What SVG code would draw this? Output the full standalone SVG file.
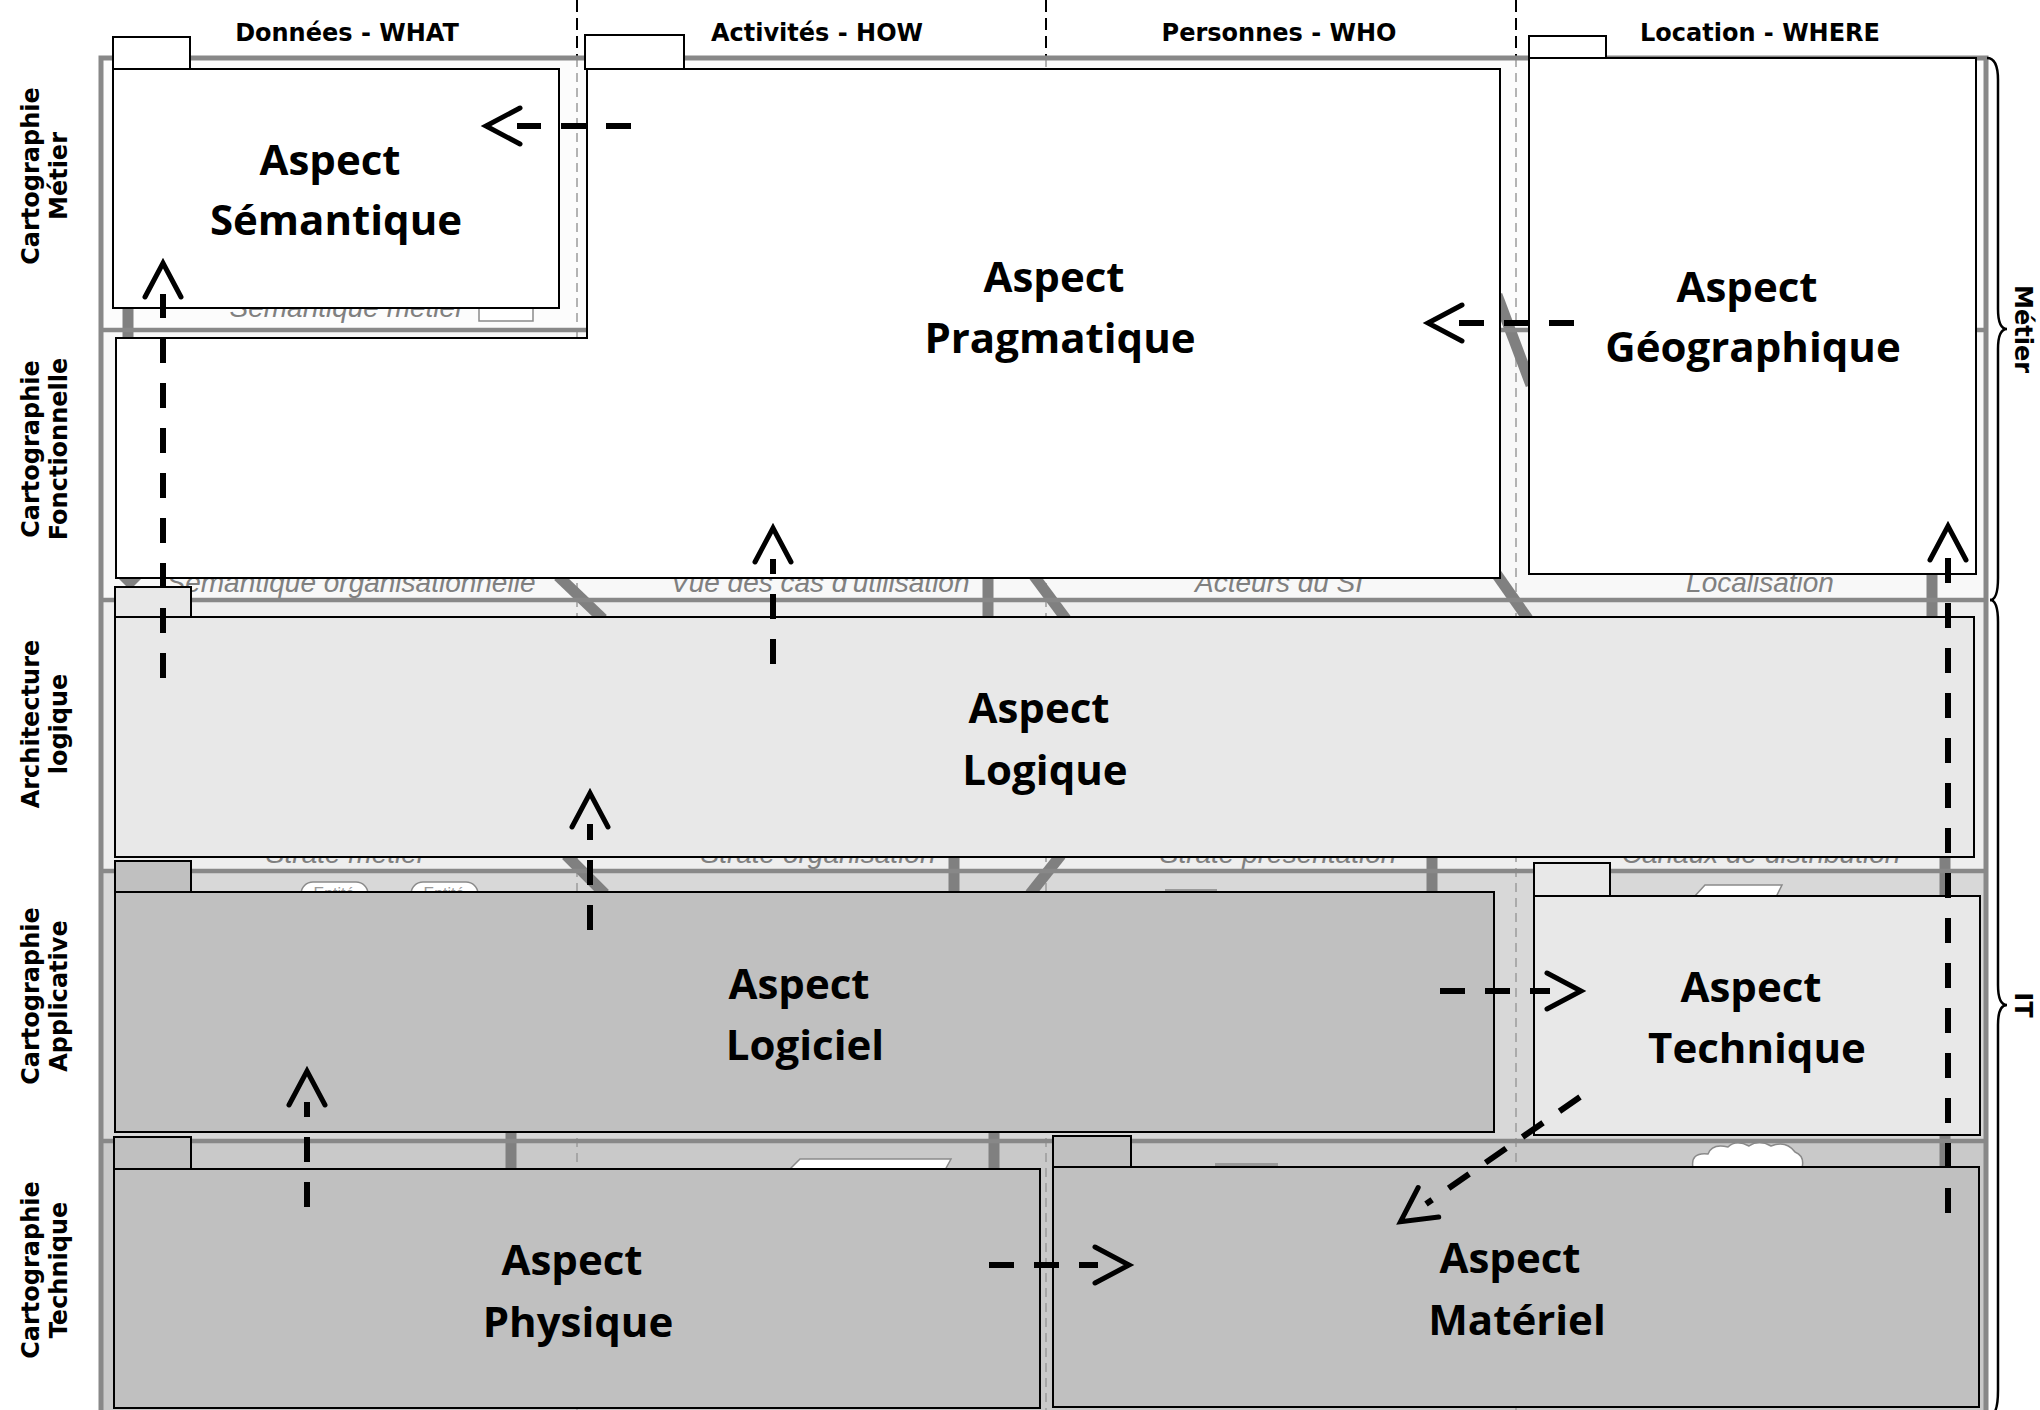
<svg xmlns="http://www.w3.org/2000/svg" width="2040" height="1410" viewBox="0 0 2040 1410">
<style>
.hdr{font-family:"DejaVu Sans",Verdana,sans-serif;font-weight:bold;font-size:24px;fill:#000;text-anchor:middle}
.asp{font-family:"Open Sans","Noto Sans",sans-serif;font-weight:bold;font-size:42px;fill:#000;text-anchor:middle}
.sub{font-family:"Liberation Sans",Arial,sans-serif;font-style:italic;font-size:28px;fill:#808080;text-anchor:middle}
.box{stroke:#000;stroke-width:2}
.bar{stroke:#808080;stroke-width:11;fill:none}
.gdash{stroke:#9a9a9a;stroke-width:1.5;stroke-dasharray:9 6;fill:none}
.kdash{stroke:#000;stroke-width:2;stroke-dasharray:12 6;fill:none}
.row{stroke:#888;stroke-width:4.5;fill:none}
.con{stroke:#000;stroke-width:6;stroke-dasharray:25 20;fill:none;marker-end:url(#ah)}
.icon{fill:#fff;stroke:#8a8a8a;stroke-width:1.5}
</style>
<defs>
<marker id="ah" viewBox="-40 -30 80 60" markerWidth="80" markerHeight="60" refX="0" refY="0" orient="auto" markerUnits="userSpaceOnUse">
<path d="M -3,-18 L 31,0 L -3,18" fill="none" stroke="#000" stroke-width="5" stroke-linecap="round" stroke-linejoin="miter"/>
</marker>
</defs>
<rect width="2040" height="1410" fill="#fff"/>
<g id="background">
<rect x="101" y="58" width="1885" height="272" fill="#fcfcfc"/>
<rect x="101" y="330" width="1885" height="270" fill="#f8f8f8"/>
<rect x="101" y="600" width="1885" height="271" fill="#eeeeee"/>
<rect x="101" y="871" width="1885" height="270" fill="#d8d8d8"/>
<rect x="101" y="1141" width="1885" height="272" fill="#c9c9c9"/>
<line class="kdash" x1="577" y1="0" x2="577" y2="58"/>
<line class="kdash" x1="1046" y1="0" x2="1046" y2="58"/>
<line class="kdash" x1="1516" y1="0" x2="1516" y2="58"/>
<line class="gdash" x1="577" y1="58" x2="577" y2="1410"/>
<line class="gdash" x1="1046" y1="58" x2="1046" y2="1410"/>
<line class="gdash" x1="1516" y1="58" x2="1516" y2="1410"/>
<text class="sub" x="347" y="317">Sémantique métier</text>
<rect class="icon" x="479" y="298" width="54" height="23"/>
<text class="sub" x="351" y="592">Sémantique organisationnelle</text>
<text class="sub" x="820" y="592">Vue des cas d'utilisation</text>
<text class="sub" x="1279" y="592">Acteurs du SI</text>
<text class="sub" x="1760" y="592">Localisation</text>
<text class="sub" x="346" y="863">Strate métier</text>
<text class="sub" x="818" y="863">Strate organisation</text>
<text class="sub" x="1278" y="863">Strate présentation</text>
<text class="sub" x="1761" y="863">Canaux de distribution</text>
<line class="bar" x1="128" y1="298" x2="128" y2="340"/>
<line class="bar" x1="1497" y1="295" x2="1531" y2="385"/>
<polygon points="116,576 144,576 130,590" fill="#808080"/>
<line class="bar" x1="558" y1="576" x2="603" y2="619"/>
<line class="bar" x1="988" y1="576" x2="988" y2="619"/>
<line class="bar" x1="1034" y1="576" x2="1066" y2="619"/>
<line class="bar" x1="1495" y1="572" x2="1528" y2="619"/>
<line class="bar" x1="1932" y1="572" x2="1932" y2="619"/>
<line class="bar" x1="566" y1="855" x2="605" y2="894"/>
<line class="bar" x1="954" y1="855" x2="954" y2="894"/>
<line class="bar" x1="1061" y1="855" x2="1030" y2="894"/>
<line class="bar" x1="1432" y1="855" x2="1432" y2="894"/>
<line class="bar" x1="1945" y1="855" x2="1945" y2="898"/>
<rect class="icon" x="301" y="882" width="67" height="30" rx="12"/>
<rect class="icon" x="411" y="882" width="67" height="30" rx="12"/>
<text x="334" y="899" font-family="Liberation Sans, Arial, sans-serif" font-size="16" fill="#999" text-anchor="middle">Entité</text>
<text x="444" y="899" font-family="Liberation Sans, Arial, sans-serif" font-size="16" fill="#999" text-anchor="middle">Entité</text>
<polygon class="icon" points="1705,885 1782,885 1776,897 1694,897"/>
<rect x="1165" y="889" width="52" height="6" fill="#9a9a9a"/>
<line class="bar" x1="511" y1="1130" x2="511" y2="1171"/>
<line class="bar" x1="994" y1="1130" x2="994" y2="1171"/>
<line class="bar" x1="1945" y1="1133" x2="1945" y2="1171"/>
<polygon class="icon" points="800,1159 951,1159 945,1170 789,1170"/>
<path class="icon" d="M1693,1168 Q1690,1152 1708,1154 Q1712,1143 1728,1147 Q1736,1139 1749,1146 Q1759,1139 1771,1146 Q1786,1140 1795,1152 Q1805,1156 1802,1168 Z"/>
<rect x="1215" y="1163" width="63" height="6" fill="#9a9a9a"/>
<path d="M101,1412 L101,58 L1986,58 L1986,1412" stroke="#888" stroke-width="5" fill="none"/>
<line class="row" x1="101" y1="330" x2="1986" y2="330"/>
<line class="row" x1="101" y1="600" x2="1986" y2="600"/>
<line class="row" x1="101" y1="871" x2="1986" y2="871"/>
<line class="row" x1="101" y1="1141" x2="1986" y2="1141"/>
</g>
<g id="headers">
<text class="hdr" x="347" y="41">Données - WHAT</text>
<text class="hdr" x="817" y="41">Activités - HOW</text>
<text class="hdr" x="1279" y="41">Personnes - WHO</text>
<text class="hdr" x="1760" y="41">Location - WHERE</text>
</g>
<g id="row-labels">
<g transform="translate(0,176)"><text class="hdr" transform="translate(39,0) rotate(-90)">Cartographie</text><text class="hdr" transform="translate(67,0) rotate(-90)">Métier</text></g>
<g transform="translate(0,449)"><text class="hdr" transform="translate(39,0) rotate(-90)">Cartographie</text><text class="hdr" transform="translate(67,0) rotate(-90)">Fonctionnelle</text></g>
<g transform="translate(0,724)"><text class="hdr" transform="translate(39,0) rotate(-90)">Architecture</text><text class="hdr" transform="translate(67,0) rotate(-90)">logique</text></g>
<g transform="translate(0,996)"><text class="hdr" transform="translate(39,0) rotate(-90)">Cartographie</text><text class="hdr" transform="translate(67,0) rotate(-90)">Applicative</text></g>
<g transform="translate(0,1270)"><text class="hdr" transform="translate(39,0) rotate(-90)">Cartographie</text><text class="hdr" transform="translate(67,0) rotate(-90)">Technique</text></g>
</g>
<g id="braces">
<path d="M1987,58 Q1998,58 1998,80 L1998,309 Q1998,329 2007,329 Q1998,329 1998,349 L1998,578 Q1998,600 1990,600" fill="none" stroke="#000" stroke-width="2.5"/>
<path d="M1990,600 Q1998,600 1998,622 L1998,985 Q1998,1005 2007,1005 Q1998,1005 1998,1025 L1998,1390 Q1998,1410 1993,1414" fill="none" stroke="#000" stroke-width="2.5"/>
<text class="hdr" transform="translate(2015,329) rotate(90)">Métier</text>
<text class="hdr" transform="translate(2015,1005) rotate(90)">IT</text>
</g>
<g id="aspect-pragmatique">
<rect class="box" x="585" y="35" width="99" height="34" fill="#fff"/>
<polygon class="box" points="587,69 1500,69 1500,578 116,578 116,338 587,338" fill="#fff"/>
<text class="asp" x="1054" y="292">Aspect</text>
<text class="asp" x="1060" y="353">Pragmatique</text>
</g>
<g id="aspect-semantique">
<rect class="box" x="113" y="37" width="77" height="32" fill="#fff"/>
<rect class="box" x="113" y="69" width="446" height="239" fill="#fff"/>
<text class="asp" x="330" y="175">Aspect</text>
<text class="asp" x="336" y="235">Sémantique</text>
</g>
<g id="aspect-geographique">
<rect class="box" x="1529" y="36" width="77" height="22" fill="#fff"/>
<rect class="box" x="1529" y="58" width="447" height="516" fill="#fff"/>
<text class="asp" x="1747" y="302">Aspect</text>
<text class="asp" x="1753" y="362">Géographique</text>
</g>
<g id="aspect-logique">
<rect class="box" x="115" y="587" width="76" height="30" fill="#e8e8e8"/>
<rect class="box" x="115" y="617" width="1859" height="240" fill="#e8e8e8"/>
<text class="asp" x="1039" y="723">Aspect</text>
<text class="asp" x="1045" y="785">Logique</text>
</g>
<g id="aspect-logiciel">
<rect class="box" x="115" y="861" width="76" height="31" fill="#c0c0c0"/>
<rect class="box" x="115" y="892" width="1379" height="240" fill="#c0c0c0"/>
<text class="asp" x="799" y="999">Aspect</text>
<text class="asp" x="805" y="1060">Logiciel</text>
</g>
<g id="aspect-technique">
<rect class="box" x="1534" y="863" width="76" height="33" fill="#e8e8e8"/>
<rect class="box" x="1534" y="896" width="446" height="239" fill="#e8e8e8"/>
<text class="asp" x="1751" y="1002">Aspect</text>
<text class="asp" x="1757" y="1063">Technique</text>
</g>
<g id="aspect-physique">
<rect class="box" x="114" y="1137" width="77" height="32" fill="#c0c0c0"/>
<rect class="box" x="114" y="1169" width="926" height="239" fill="#c0c0c0"/>
<text class="asp" x="572" y="1275">Aspect</text>
<text class="asp" x="578" y="1337">Physique</text>
</g>
<g id="aspect-materiel">
<rect class="box" x="1053" y="1136" width="78" height="31" fill="#c0c0c0"/>
<rect class="box" x="1053" y="1167" width="926" height="240" fill="#c0c0c0"/>
<text class="asp" x="1510" y="1273">Aspect</text>
<text class="asp" x="1517" y="1335">Matériel</text>
</g>
<g id="connectors">
<path class="con" d="M631,126 L517,126"/>
<path class="con" d="M1574,323 L1459,323"/>
<path class="con" d="M163,678 L163,294"/>
<path class="con" d="M773,664 L773,559"/>
<path class="con" d="M590,930 L590,824"/>
<path class="con" d="M307,1207 L307,1102"/>
<path class="con" d="M1440,991 L1550,991"/>
<path class="con" d="M1580,1097 L1426,1204"/>
<path class="con" d="M989,1265 L1098,1265"/>
<path class="con" d="M1948,1213 L1948,557"/>
</g>
</svg>
